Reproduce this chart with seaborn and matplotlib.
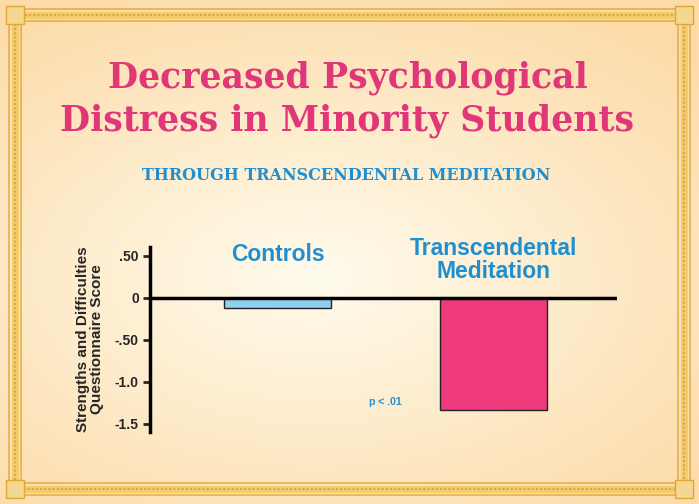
import numpy as np
import pandas as pd
import matplotlib.pyplot as plt
import seaborn as sns
from matplotlib.patches import Rectangle

groups = ["Controls", "Transcendental\nMeditation"]
scores = [-0.12, -1.33]
bar_colors = ["#8fd0f0", "#ee3a7c"]
yticks = [0.5, 0, -0.5, -1.0, -1.5]
ytick_labels = [".50", "0", "-.50", "-1.0", "-1.5"]

sns.set_style("white")
plt.rcParams["font.family"] = ["Liberation Sans", "DejaVu Sans"]

W, H = 699, 504
fig = plt.figure(figsize=(W / 100, H / 100), dpi=100)

# background gradient + golden frame
bg = fig.add_axes([0, 0, 1, 1])
yy, xx = np.mgrid[0:1:200j, 0:1:200j]
d = np.sqrt((xx - 0.45) ** 2 + ((yy - 0.55) * 1.2) ** 2)
t = np.clip(d / 0.75, 0, 1)[..., None]
c1 = np.array([1.0, 0.985, 0.93])
c2 = np.array([0.99, 0.86, 0.66])
bg.imshow(c1 * (1 - t) + c2 * t, extent=[0, W, 0, H], aspect="auto")
for inset, lw, col in [(9, 1.2, "#e6b048"), (15, 5, "#f2cc70"), (15, 1.5, "#e0a63c"), (21, 1.2, "#e6b048")]:
    bg.add_patch(Rectangle((inset, inset), W - 2 * inset, H - 2 * inset,
                           fill=False, ec=col, lw=lw, ls=(0, (1, 1)) if lw == 1.5 else "-"))
for cx in [15, W - 15]:
    for cy in [15, H - 15]:
        bg.add_patch(Rectangle((cx - 9, cy - 9), 18, 18, fc="#f5d890", ec="#e0a63c", lw=1))
bg.set_xlim(0, W)
bg.set_ylim(0, H)
bg.axis("off")

fig.text(0.497, 0.803, "Decreased Psychological\nDistress in Minority Students",
         ha="center", va="center", fontsize=25, fontweight="bold",
         color="#e03778", family=["DejaVu Serif"], linespacing=1.3)
fig.text(0.495, 0.651, "THROUGH TRANSCENDENTAL MEDITATION", ha="center", va="center",
         fontsize=11.5, fontweight="bold", color="#1f8fcf", family=["DejaVu Serif"])

ax = fig.add_axes([0.2146, 0.143, 0.668, 0.367])
ax.patch.set_alpha(0)
df = pd.DataFrame({"group": groups, "score": scores})
sns.barplot(data=df, x="group", y="score", hue="group", palette=bar_colors,
            saturation=1, width=0.495, edgecolor="#222222", linewidth=1,
            legend=False, ax=ax)
ax.axhline(0, color="black", lw=2.5, zorder=5)
ax.set_xlim(-0.59, 1.57)
ax.set_ylim(-1.595, 0.607)
ax.set_yticks(yticks)
ax.set_yticklabels(ytick_labels, fontsize=10, fontweight="bold")
ax.tick_params(axis="y", length=5, width=2, direction="out", left=True, pad=3)
ax.set_xticks([])
ax.set_xlabel("")
ax.set_ylabel("Strengths and Difficulties\nQuestionnaire Score", fontsize=11,
              fontweight="bold", labelpad=8, linespacing=1.0)
for s in ["top", "right", "bottom"]:
    ax.spines[s].set_visible(False)
ax.spines["left"].set_linewidth(2.5)
ax.spines["left"].set_color("black")

ax.text(0, 0.52, groups[0], ha="center", va="center", fontsize=16.5,
        fontweight="bold", color="#1f8fcf")
ax.text(1, 0.45, groups[1], ha="center", va="center", fontsize=16.5,
        fontweight="bold", color="#1f8fcf", linespacing=1.0)
ax.text(0.5, -1.24, "p < .01", ha="center", va="center", fontsize=7.5,
        fontweight="bold", color="#1f8fcf")

fig.savefig("out.png", dpi=100)
